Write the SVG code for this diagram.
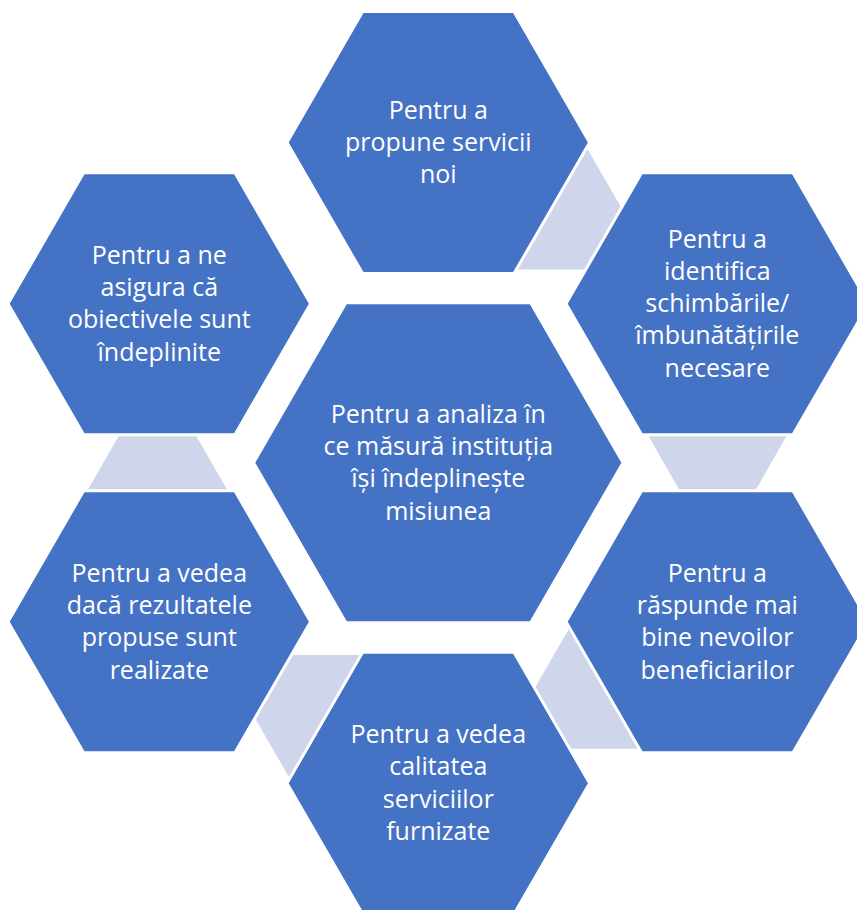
<svg xmlns="http://www.w3.org/2000/svg" width="857" height="910" viewBox="0 0 857 910">
<style>
.hex{fill:#4472C4;stroke:#FFFFFF;stroke-width:3;stroke-linejoin:miter}
.con{fill:#CFD5EA}
.lbl{font-family:"Open Sans","Liberation Sans",sans-serif;font-size:25px;fill:#FFFFFF;text-anchor:middle}
</style>
<rect width="857" height="910" fill="#FFFFFF"/>
<g id="connectors">
<polygon class="con" points="568,115.4 588,150 640,240 640,269.5 470,269.5 470,115.4"/>
<polygon class="con" points="639.5,420 795.5,420 749.5,501 685.5,501"/>
<polygon class="con" points="582.7,605 652,748.7 555,748.7 530.8,695"/>
<polygon class="con" points="280,655 372,655 296.4,790 251.4,712"/>
<polygon class="con" points="127.9,420 187.1,420 231.9,498 83.1,498"/>
</g>
<g id="node-top">
<polygon class="hex" points="287,142.6 362.65,11.6 513.95,11.6 589.6,142.6 513.95,273.6 362.65,273.6"/>
<text class="lbl"><tspan x="438.3" y="118.6">Pentru a</tspan><tspan x="438.3" y="150.9">propune servicii</tspan><tspan x="438.3" y="183.2">noi</tspan></text>
</g>
<g id="node-top-right">
<polygon class="hex" points="566,303.8 641.65,172.8 792.95,172.8 868.6,303.8 792.95,434.8 641.65,434.8"/>
<text class="lbl"><tspan x="717.3" y="247.5">Pentru a</tspan><tspan x="717.3" y="279.8">identifica</tspan><tspan x="717.3" y="312.1">schimbările/</tspan><tspan x="717.3" y="344.4">îmbunătățirile</tspan><tspan x="717.3" y="376.7">necesare</tspan></text>
</g>
<g id="node-bottom-right">
<polygon class="hex" points="566,621.8 641.65,490.8 792.95,490.8 868.6,621.8 792.95,752.8 641.65,752.8"/>
<text class="lbl"><tspan x="717.3" y="581.65">Pentru a</tspan><tspan x="717.3" y="613.95">răspunde mai</tspan><tspan x="717.3" y="646.25">bine nevoilor</tspan><tspan x="717.3" y="678.55">beneficiarilor</tspan></text>
</g>
<g id="node-bottom">
<polygon class="hex" points="287,783.2 362.65,652.2 513.95,652.2 589.6,783.2 513.95,914.2 362.65,914.2"/>
<text class="lbl"><tspan x="438.3" y="743.05">Pentru a vedea</tspan><tspan x="438.3" y="775.35">calitatea</tspan><tspan x="438.3" y="807.65">serviciilor</tspan><tspan x="438.3" y="839.95">furnizate</tspan></text>
</g>
<g id="node-bottom-left">
<polygon class="hex" points="8,621.8 83.65,490.8 234.95,490.8 310.6,621.8 234.95,752.8 83.65,752.8"/>
<text class="lbl"><tspan x="159.3" y="581.65">Pentru a vedea</tspan><tspan x="159.3" y="613.95">dacă rezultatele</tspan><tspan x="159.3" y="646.25">propuse sunt</tspan><tspan x="159.3" y="678.55">realizate</tspan></text>
</g>
<g id="node-top-left">
<polygon class="hex" points="8,303.8 83.65,172.8 234.95,172.8 310.6,303.8 234.95,434.8 83.65,434.8"/>
<text class="lbl"><tspan x="159.3" y="263.65">Pentru a ne</tspan><tspan x="159.3" y="295.95">asigura că</tspan><tspan x="159.3" y="328.25">obiectivele sunt</tspan><tspan x="159.3" y="360.55">îndeplinite</tspan></text>
</g>
<g id="node-center">
<polygon class="hex" points="253.55,462.8 345.9,302.8 530.7,302.8 623.05,462.8 530.7,622.8 345.9,622.8"/>
<text class="lbl"><tspan x="438.3" y="422.65">Pentru a analiza în</tspan><tspan x="438.3" y="454.95">ce măsură instituția</tspan><tspan x="438.3" y="487.25">își îndeplinește</tspan><tspan x="438.3" y="519.55">misiunea</tspan></text>
</g>
</svg>
